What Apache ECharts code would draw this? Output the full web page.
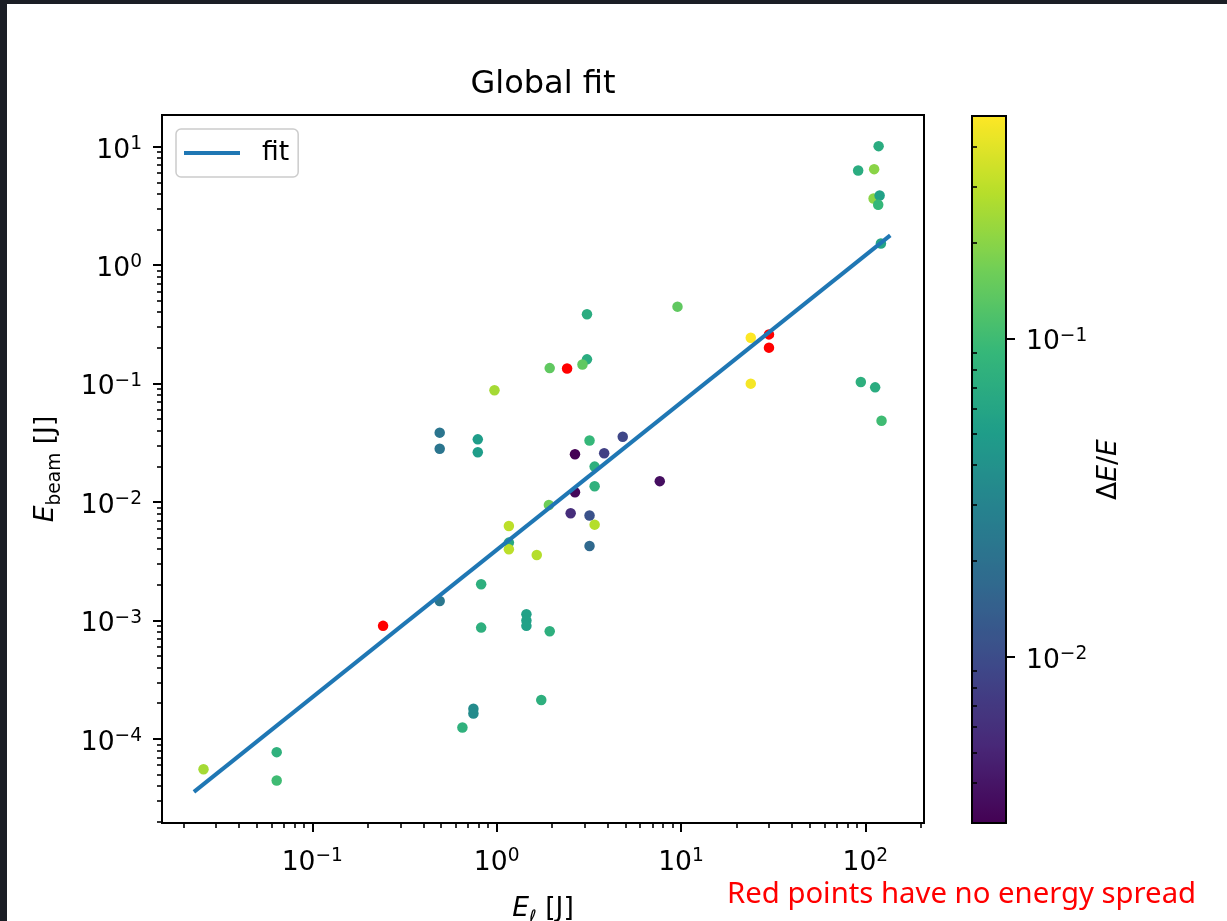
<!DOCTYPE html>
<html><head><meta charset="utf-8">
<script src="https://cdn.jsdelivr.net/npm/echarts@6/dist/echarts.min.js"></script>
<style>
html,body{margin:0;padding:0;background:#fff;}
#c{position:absolute;left:0;top:0;width:1227px;height:921px;}
.band{position:absolute;background:#1b1e25;}
</style></head><body>
<div id="c"></div>
<div class="band" style="left:0;top:0;width:1227px;height:4px"></div>
<div class="band" style="left:0;top:0;width:7px;height:921px"></div>
<script>
// ---- data ----
const laserE = [118, 91.4, 111.6, 110.8, 119.5, 117.4, 121.4, 9.57, 3.09, 3.09, 2.92, 1.94, 0.973, 23.9, 23.9, 94.5, 113, 122.4,
  0.79, 0.79, 3.19, 4.83, 2.66, 3.83, 3.40, 3.40, 7.67, 2.66, 1.92, 2.52, 3.19, 3.40, 1.165, 1.165, 1.165, 1.65, 3.19,
  0.824, 0.824, 1.45, 1.45, 1.45, 1.94, 0.491, 0.491, 0.491, 0.0257, 0.0641, 0.0641, 0.652, 0.748, 0.748, 1.746];
const beamE = [10.1, 6.3, 6.46, 3.65, 3.87, 3.23, 1.52, 0.446, 0.384, 0.160, 0.145, 0.135, 0.0877, 0.244, 0.0998, 0.103, 0.0929, 0.0486,
  0.0338, 0.0263, 0.033, 0.0356, 0.0253, 0.0258, 0.0199, 0.0136, 0.0150, 0.0121, 0.00944, 0.00803, 0.00768, 0.00644, 0.00627, 0.00454, 0.00399, 0.00357, 0.00425,
  0.00202, 0.00087, 0.00113, 0.00100, 0.00090, 0.00081, 0.0385, 0.0282, 0.00146, 5.55e-5, 7.73e-5, 4.46e-5, 1.25e-4, 1.80e-4, 1.64e-4, 2.13e-4];
const spread = [0.07, 0.07, 0.2, 0.2, 0.055, 0.09, 0.06, 0.14, 0.07, 0.07, 0.14, 0.14, 0.25, 0.5, 0.47, 0.075, 0.07, 0.1,
  0.05, 0.05, 0.09, 0.009, 0.003, 0.008, 0.075, 0.08, 0.0036, 0.0033, 0.16, 0.0058, 0.011, 0.28, 0.3, 0.065, 0.3, 0.28, 0.017,
  0.075, 0.075, 0.055, 0.055, 0.055, 0.075, 0.022, 0.022, 0.023, 0.25, 0.08, 0.1, 0.08, 0.035, 0.035, 0.075];
const redLaserE = [0.242, 2.41, 30.0, 30.0];
const redBeamE = [0.0009, 0.134, 0.260, 0.201];
const fitLaserE = [0.0228, 136.5];
const fitBeamE = [3.57e-5, 1.78];
const xMajorTicks = [0.1, 1, 10, 100];
const yMajorTicks = [1e-4, 1e-3, 1e-2, 1e-1, 1, 10];
const cbMajorTicks = [0.01, 0.1];
const viridis = ['#440154', '#482878', '#3e4989', '#31688e', '#26828e', '#1f9e89', '#35b779', '#6ece58', '#b5de2b', '#fde725'];

// ---- helpers ----
function logMinor(lo, hi) {
  const out = [];
  for (let e = Math.floor(Math.log10(lo)); e <= Math.ceil(Math.log10(hi)); e++) {
    for (let k = 2; k <= 9; k++) {
      const v = +(k * Math.pow(10, e)).toPrecision(6);
      if (v >= lo && v <= hi) out.push(v);
    }
  }
  return out;
}
const FONT = 'DejaVu Sans';
const FS = 26.6, FSS = 18.6;
function sci(v) {
  const e = Math.round(Math.log10(v));
  return '{b|10}{s|' + (e < 0 ? '\u2212' : '') + Math.abs(e) + '}';
}
const supRich = {
  b: {fontFamily: FONT, fontSize: FS, color: '#000', lineHeight: 32, verticalAlign: 'middle'},
  s: {fontFamily: FONT, fontSize: FSS, color: '#000', lineHeight: 18, verticalAlign: 'top'}
};
const nameRich = {
  i: {fontFamily: FONT, fontSize: FS, fontStyle: 'italic', color: '#000', lineHeight: 32, verticalAlign: 'top'},
  n: {fontFamily: FONT, fontSize: FS, color: '#000', lineHeight: 32, verticalAlign: 'top'},
  s: {fontFamily: FONT, fontSize: FSS, color: '#000', lineHeight: 18, verticalAlign: 'bottom'},
  si: {fontFamily: FONT, fontSize: FSS, fontStyle: 'italic', color: '#000', lineHeight: 18, verticalAlign: 'bottom'}
};

const X_MIN = 0.0153, X_MAX = 208, Y_MIN = 1.95e-5, Y_MAX = 18.5, CB_MIN = 0.003, CB_MAX = 0.5;

const mainData = laserE.map((x, i) => [x, beamE[i], Math.log10(spread[i])]);
const redData = redLaserE.map((x, i) => [x, redBeamE[i]]);
const fitData = fitLaserE.map((x, i) => [x, fitBeamE[i]]);

function majorAxis(extra) {
  return Object.assign({
    type: 'log', logBase: 10,
    splitLine: {show: false},
    axisLine: {show: true, onZero: false, lineStyle: {color: '#000', width: 2}},
    axisTick: {show: true, length: 9, lineStyle: {color: '#000', width: 2}},
    axisLabel: {show: true, formatter: v => sci(v), rich: supRich}
  }, extra);
}
function minorAxis(extra) {
  return Object.assign({
    type: 'log', logBase: 10,
    splitLine: {show: false},
    axisLine: {show: false},
    axisTick: {show: true, length: 5, lineStyle: {color: '#000', width: 1.6}},
    axisLabel: {show: false}
  }, extra);
}

const chart = echarts.init(document.getElementById('c'), null, {renderer: 'canvas'});
chart.setOption({
  backgroundColor: '#fff',
  animation: false,
  title: [
    {text: 'Global fit', left: 543, top: 69, textAlign: 'center', padding: 0,
     textStyle: {fontFamily: FONT, fontSize: 32, fontWeight: 'normal', color: '#000'}},
    {text: 'Red points have no energy spread', left: 727, top: 880, padding: 0,
     textStyle: {fontFamily: 'Noto Sans', fontSize: 29.3, fontWeight: 'normal', color: '#ff0000'}}
  ],
  grid: [
    {left: 162, top: 115, width: 762, height: 708, show: true, borderColor: '#000', borderWidth: 2,
     backgroundColor: 'rgba(0,0,0,0)', outerBoundsMode: 'none', containLabel: false},
    {left: 972, top: 116, width: 34, height: 707, show: true, borderColor: '#000', borderWidth: 2,
     backgroundColor: 'rgba(0,0,0,0)', z: 6, outerBoundsMode: 'none', containLabel: false}
  ],
  legend: {
    data: ['fit'], left: 176, top: 129, padding: [9, 9, 9, 8], icon: 'rect', itemWidth: 56, itemHeight: 4,
    borderColor: '#cccccc', borderWidth: 1.5, borderRadius: 5, backgroundColor: '#ffffff', selectedMode: false,
    textStyle: {fontFamily: FONT, fontSize: FS, color: '#000', lineHeight: 30, padding: [0, 0, 0, 17]}
  },
  xAxis: [
    majorAxis({gridIndex: 0, position: 'bottom', min: X_MIN, max: X_MAX,
      axisTick: {show: true, length: 9, lineStyle: {color: '#000', width: 2}, customValues: xMajorTicks},
      axisLabel: {show: true, margin: 24, formatter: v => sci(v), rich: supRich, customValues: xMajorTicks},
      name: '{i|E}{si|\u2113}{n| [J]}', nameLocation: 'middle', nameGap: 73, nameTextStyle: {rich: nameRich}}),
    minorAxis({gridIndex: 0, position: 'bottom', min: X_MIN, max: X_MAX,
      axisTick: {show: true, length: 5, lineStyle: {color: '#000', width: 1.6}, customValues: logMinor(X_MIN, X_MAX)}}),
    {gridIndex: 1, type: 'value', min: 0, max: 1, show: false}
  ],
  yAxis: [
    majorAxis({gridIndex: 0, position: 'left', min: Y_MIN, max: Y_MAX,
      axisTick: {show: true, length: 9, lineStyle: {color: '#000', width: 2}, customValues: yMajorTicks},
      axisLabel: {show: true, margin: 20, padding: [8, 0, 0, 0], formatter: v => sci(v), rich: supRich, customValues: yMajorTicks},
      name: '{i|E}{s|beam}{n| [J]}', nameLocation: 'middle', nameGap: 97, nameRotate: 90, nameTextStyle: {rich: nameRich}}),
    minorAxis({gridIndex: 0, position: 'left', min: Y_MIN, max: Y_MAX,
      axisTick: {show: true, length: 5, lineStyle: {color: '#000', width: 1.6}, customValues: logMinor(Y_MIN, Y_MAX)}}),
    majorAxis({gridIndex: 1, position: 'right', min: CB_MIN, max: CB_MAX, z: 6,
      axisTick: {show: true, length: 9, lineStyle: {color: '#000', width: 2}, customValues: cbMajorTicks},
      axisLabel: {show: true, margin: 20, padding: [8, 0, 0, 0], formatter: v => sci(v), rich: supRich, customValues: cbMajorTicks},
      name: '{n|\u0394}{i|E}{n|/}{i|E}', nameLocation: 'middle', nameGap: 90, nameRotate: 90, nameTextStyle: {rich: nameRich}}),
    minorAxis({gridIndex: 1, position: 'right', min: CB_MIN, max: CB_MAX, z: 6,
      axisTick: {show: true, length: 5, lineStyle: {color: '#000', width: 1.6}, customValues: logMinor(CB_MIN, CB_MAX)}})
  ],
  visualMap: {
    type: 'continuous', seriesIndex: 0, dimension: 2,
    min: Math.log10(CB_MIN), max: Math.log10(CB_MAX),
    inRange: {color: viridis},
    calculable: false, hoverLink: false, text: null, showLabel: false,
    orient: 'vertical', left: 972, top: 116, itemWidth: 34, itemHeight: 707, padding: 0, z: 1
  },
  series: [
    {type: 'scatter', name: 'data', xAxisIndex: 0, yAxisIndex: 0, data: mainData, symbolSize: 10.5, silent: true,
     itemStyle: {opacity: 1}},
    {type: 'line', name: 'fit', xAxisIndex: 0, yAxisIndex: 0, data: fitData, showSymbol: false, silent: true,
     lineStyle: {color: '#1f77b4', width: 4}, itemStyle: {color: '#1f77b4'}},
    {type: 'scatter', name: 'no spread', xAxisIndex: 0, yAxisIndex: 0, data: redData, symbolSize: 10.5, silent: true,
     itemStyle: {color: '#ff0000', opacity: 1}}
  ]
});
</script></body></html>
